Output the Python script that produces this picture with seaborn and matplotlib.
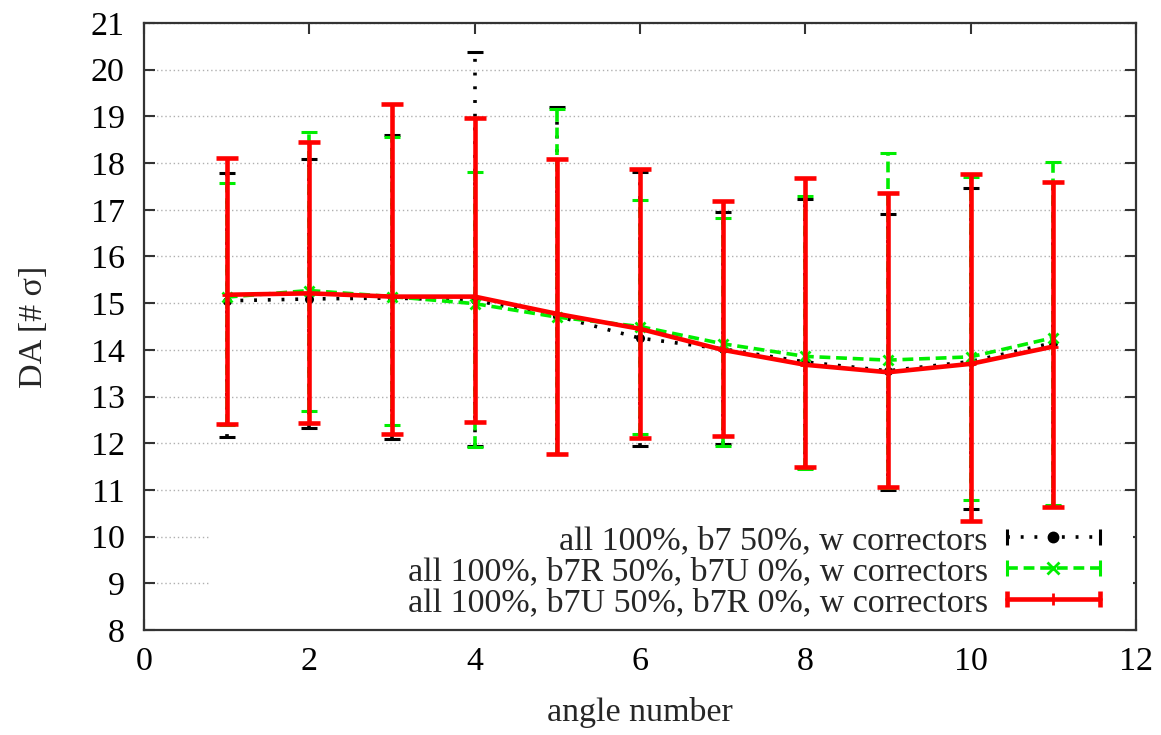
import numpy as np
import pandas as pd
import matplotlib
matplotlib.use("Agg")
import matplotlib.pyplot as plt
import seaborn as sns
from matplotlib.lines import Line2D
from matplotlib.legend_handler import HandlerLine2D, HandlerTuple
from matplotlib.patches import Rectangle

# ---------------- data ----------------
angles = [1, 2, 3, 4, 5, 6, 7, 8, 9, 10, 11]

b7_mean = [15.05, 15.09, 15.11, 15.06, 14.72, 14.25, 14.02, 13.74, 13.55, 13.75, 14.15]
b7_hi   = [17.79, 18.08, 18.60, 20.38, 19.21, 17.80, 16.95, 17.24, 16.90, 17.47, 17.60]
b7_lo   = [12.13, 12.33, 12.09, 11.95, 11.77, 11.95, 11.99, 11.48, 11.00, 10.60, 10.65]

b7R_mean = [15.13, 15.27, 15.14, 14.99, 14.70, 14.50, 14.13, 13.86, 13.78, 13.85, 14.26]
b7R_hi   = [17.57, 18.66, 18.56, 17.80, 19.16, 17.20, 16.82, 17.30, 18.21, 17.70, 18.02]
b7R_lo   = [12.40, 12.70, 12.38, 11.91, 11.77, 12.20, 11.95, 11.45, 11.05, 10.78, 10.67]

b7U_mean = [15.18, 15.21, 15.14, 15.14, 14.77, 14.45, 14.00, 13.68, 13.52, 13.70, 14.07]
b7U_hi   = [18.11, 18.45, 19.26, 18.97, 18.09, 17.88, 17.18, 17.68, 17.36, 17.76, 17.60]
b7U_lo   = [12.41, 12.43, 12.20, 12.45, 11.77, 12.11, 12.16, 11.49, 11.07, 10.33, 10.64]

series_labels = [
    "all 100%, b7 50%, w correctors",
    "all 100%, b7R 50%, b7U 0%, w correctors",
    "all 100%, b7U 50%, b7R 0%, w correctors",
]
x_ticks = [0, 2, 4, 6, 8, 10, 12]
y_ticks = list(range(8, 22))

# ---------------- style ----------------
sns.set_theme(style="ticks")
plt.rcParams["font.family"] = ["Liberation Serif", "DejaVu Serif"]
FS = 24.5

fig, ax = plt.subplots(figsize=(11.61, 7.35), dpi=100)
fig.subplots_adjust(left=144 / 1161, right=1136 / 1161, top=1 - 23 / 735, bottom=1 - 630 / 735)

styles = [
    dict(color="black", ls=(0, (0.8, 3.0)), lw=2.6, marker="o", ms=4.5, cap=6, caplw=2.2),
    dict(color="#00ee00", ls=(0, (3.0, 1.6)), lw=2.6, marker="x", ms=7, cap=6, caplw=2.2),
    dict(color="#ff0000", ls="-", lw=3.3, marker="+", ms=7, cap=8, caplw=3.3),
]
data = [
    (b7_mean, b7_lo, b7_hi),
    (b7R_mean, b7R_lo, b7R_hi),
    (b7U_mean, b7U_lo, b7U_hi),
]

handles = []
hmap = {}
for (mean, lo, hi), st, lab in zip(data, styles, series_labels):
    df = pd.DataFrame({"angle": angles, "DA": mean})
    sns.lineplot(data=df, x="angle", y="DA", ax=ax, color=st["color"],
                 linestyle=st["ls"], linewidth=st["lw"], marker=st["marker"],
                 markersize=st["ms"], markeredgewidth=2, markeredgecolor=st["color"],
                 legend=False, zorder=3)
    m = np.array(mean)
    yerr = [m - np.array(lo), np.array(hi) - m]
    eb = ax.errorbar(angles, mean, yerr=yerr, fmt="none", ecolor=st["color"],
                     elinewidth=st["lw"], capsize=st["cap"], capthick=st["caplw"], zorder=3)
    eb[2][0].set_linestyle(st["ls"])

    h_line = Line2D([], [], color=st["color"], linestyle=st["ls"], linewidth=st["lw"])
    h_caps = Line2D([], [], color=st["color"], linestyle="none", marker="|",
                    markersize=12, markeredgewidth=st["caplw"])
    h_mk = Line2D([], [], color=st["color"], linestyle="none", marker=st["marker"],
                  markersize=st["ms"] + 2, markeredgewidth=2)
    hmap[h_caps] = HandlerLine2D(numpoints=2, marker_pad=0)
    hmap[h_mk] = HandlerLine2D(numpoints=1)
    handles.append((h_line, h_caps, h_mk))

hmap[tuple] = HandlerTuple(ndivide=1, pad=0)

# white key background (hides grid lines behind the key)
ax.add_patch(Rectangle((0.067, 0.0), 0.93, 0.178, transform=ax.transAxes,
                       facecolor="white", edgecolor="none", zorder=1))

ax.set_xlim(0, 12)
ax.set_ylim(8, 21)
ax.set_xticks(x_ticks)
ax.set_yticks(y_ticks)
ax.set_xlabel("angle number", fontsize=FS, labelpad=14)
ax.set_ylabel("DA [# σ]", fontsize=FS, labelpad=30)

ax.yaxis.grid(True, color="#b0b0b0", linestyle=(0, (1, 2)), linewidth=1.0)
ax.xaxis.grid(False)
ax.tick_params(direction="in", length=8, width=1.5, colors="#333333",
               labelcolor="black", top=True, right=True, labelsize=FS)
ax.tick_params(axis="x", pad=12)
ax.tick_params(axis="y", pad=14)
for sp in ax.spines.values():
    sp.set_color("#333333")
    sp.set_linewidth(1.6)
    sp.set_visible(True)

leg = ax.legend(handles, series_labels, handler_map=hmap, loc="lower right",
                bbox_to_anchor=(0.964, 0.02), frameon=False, fontsize=FS,
                markerfirst=False, handlelength=2.75, handletextpad=0.55,
                labelspacing=0.0, borderaxespad=0, borderpad=0)

fig.savefig("out.png", dpi=100)
